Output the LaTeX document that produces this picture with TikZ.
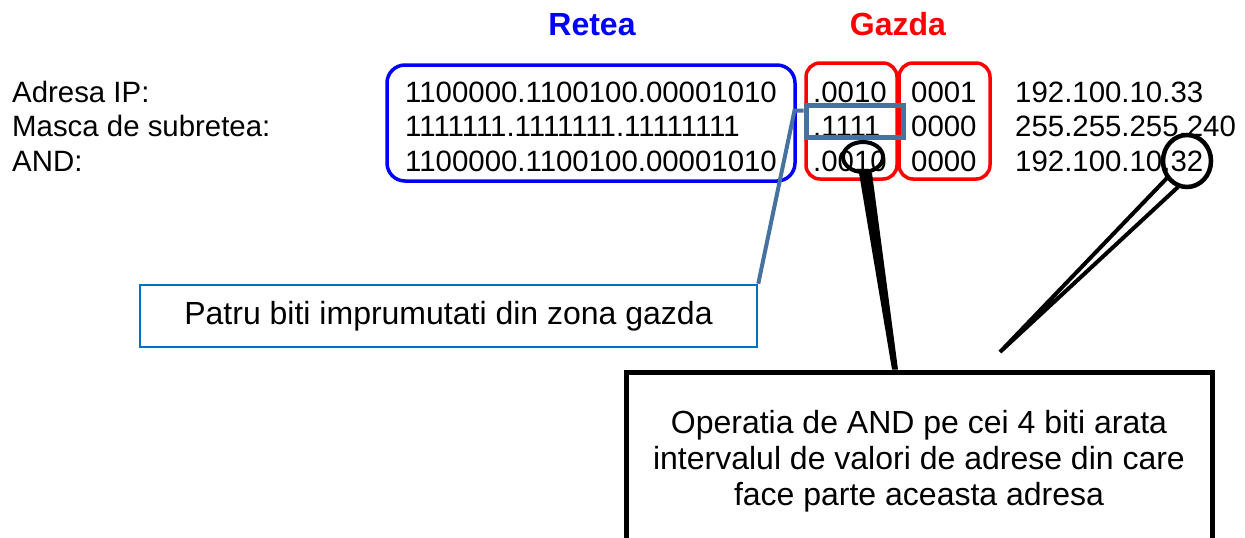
\documentclass[tikz,border=0pt]{standalone}
\usepackage{fontspec}
\setmainfont{Liberation Sans}
\usetikzlibrary{calc}

\definecolor{steel}{RGB}{70,114,160}
\definecolor{calloutblue}{RGB}{0,112,192}

\tikzset{
  row/.style={anchor=base west, inner sep=0pt, font=\fontsize{29.4}{35}\selectfont},
  title/.style={anchor=base, inner sep=0pt, font=\fontsize{32}{38}\selectfont\bfseries},
  zone/.style={draw=#1, rounded corners=14, line width=3.5, inner sep=0pt, minimum height=116},
  remark/.style={font=\fontsize{32}{36}\selectfont, align=center, inner sep=0pt}
}

\begin{document}
\begin{tikzpicture}[x=1pt, y=-1pt]

\clip (0,0) rectangle (1245,538);

% Titles
\node[title, blue] (retea) at (592,35) {Retea};
\node[title, red] (gazda) at (898,35) {Gazda};

% Zones
\node[zone=blue, rounded corners=18, minimum width=408] (netzone) at (591,123) {};
\node[zone=red, minimum width=91] (subzone) at (851.5,121) {};
\node[zone=red, minimum width=91] (hostzone) at (944.5,121) {};

% Rows: address, mask, AND
\node[row] (lblip) at (12,102) {Adresa IP:};
\node[row] (lblmask) at (12,136.5) {Masca de subretea:};
\node[row] (lbland) at (12,171) {AND:};

\node[row] (netip) at (405,102) {1100000.1100100.00001010};
\node[row] (netmask) at (405,136.5) {1111111.1111111.11111111};
\node[row] (netand) at (405,171) {1100000.1100100.00001010};

\node[row] (subip) at (813,102) {.0010};
\node[row] (submask) at (813,136.5) {.1111};
\node[row] (suband) at (813,171) {.0010};

\node[row] (hostip) at (911,102) {0001};
\node[row] (hostmask) at (911,136.5) {0000};
\node[row] (hostand) at (911,171) {0000};

\node[row] (decip) at (1015,102) {192.100.10.33};
\node[row] (decmask) at (1015,136.5) {255.255.255.240};
\node[row] (decand) at (1015,171) {192.100.10.32};

% Borrowed bits
\node[draw=steel, line width=5, inner sep=0pt, minimum width=97, minimum height=32] (borrow) at (854.5,121) {};

% Callout for the borrowed bits
\node[draw=calloutblue, line width=2.5, minimum width=617, minimum height=62, inner sep=0pt,
      font=\fontsize{32}{36}\selectfont] (patru) at (448.5,316) {Patru biti imprumutati din zona gazda};
\draw[steel, line width=4] (patru.north east) -- ($(borrow.north west)+(-9,8)$) -- ($(borrow.north west)+(0,8)$);

% Callout for the AND result
\node[draw, line width=5, minimum width=586, minimum height=216, inner sep=0pt] (andbox) at (919,480) {};
\node[remark] (andtxt) at (919,461) {Operatia de AND pe cei 4 biti arata\\intervalul de valori de adrese din care\\face parte aceasta adresa};

% Circle around the two middle bits
\coordinate (c1) at (863,157);
\fill ($(c1)+(-4,16)$) -- ($(c1)+(9,16)$) -- ($(andbox.north)+(-21,0)$) -- ($(andbox.north)+(-27,0)$) -- cycle;
\draw[line width=4] (c1) ellipse [x radius=20, y radius=15];

% Circle around the last octet
\coordinate (c2) at (1187,161);
\coordinate (tip) at (1000,352);
\filldraw[fill=white, line width=4, miter limit=30] ($(c2)+(-20,17)$) -- (tip) -- ($(c2)+(-9,26)$);
\draw[line width=4.5] (c2) ellipse [x radius=24, y radius=26];

\end{tikzpicture}
\end{document}
